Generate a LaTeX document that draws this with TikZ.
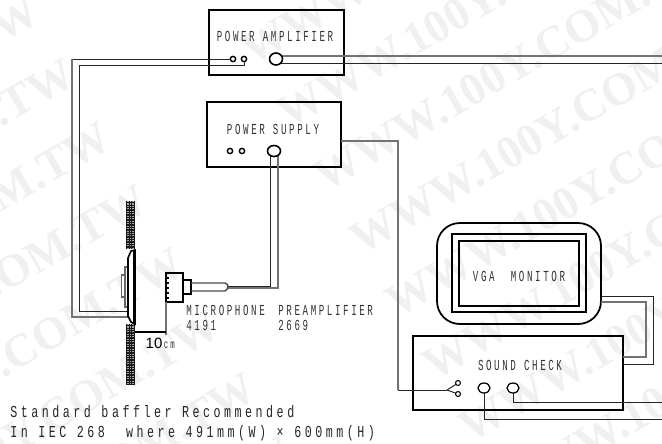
\documentclass[tikz,border=0pt]{standalone}
\usepackage{fontspec}
\usepackage{xcolor}
\setmainfont{Liberation Serif}
\setsansfont{Liberation Sans}
\definecolor{WMGray}{HTML}{F0F0F0}
\definecolor{TxtGray}{HTML}{333333}
\newfontfamily\lblfont[FakeStretch=.6,LetterSpace=17]{Liberation Mono}
\newfontfamily\notefont[FakeStretch=.7,LetterSpace=21]{Liberation Mono}
\tikzset{
  devbox/.style={draw,line width=.9pt},
  wiredark/.style={line width=.55pt,draw=black!85},
  wiregray/.style={line width=.9pt,draw=black!55},
  port/.style={draw,line width=.8pt,fill=white,circle,inner sep=0pt,minimum size=#1},
  lbl/.style={text=TxtGray,inner sep=0pt,font=\fontsize{8.7pt}{10pt}\lblfont},
  note/.style={anchor=west,inner sep=0pt,text=black!85,font=\fontsize{9.5pt}{12pt}\notefont},
  wmark/.style={text=WMGray,rotate=30,anchor=base west,inner sep=0pt,font=\fontsize{26.2pt}{28pt}\bfseries},
}
\begin{document}
\begin{tikzpicture}[x=.02cm,y=-.02cm]
\path[use as bounding box] (0,0) rectangle (662,443);
% watermark
\foreach \k in {-3,...,8}
  \foreach \st in {185,-430}{
    \pgfmathsetmacro{\wc}{184+72.6*\k}
    \pgfmathsetmacro{\wx}{\st*.866+\wc*.5}
    \pgfmathsetmacro{\wy}{-\st*.5+\wc*.866}
    \node[wmark] (wm\k\st) at (\wx,\wy) {WWW.100Y.COM.TW};
  }
% boxes
\draw[devbox] (209,10) rectangle (344,75);
\draw[devbox] (207,102) rectangle (341,167);
\draw[devbox] (413,336) rectangle (623,410);
\draw[line width=1pt,rounded corners=13] (437,223) rectangle (601,324);
\draw[line width=.9pt] (452,234) rectangle (586,312);
\draw[line width=1.2pt] (459,241) rectangle (579,306);
\node[lbl] (ampl) at (275,36) {POWER AMPLIFIER};
\node[lbl] (supl) at (273,129) {POWER SUPPLY};
\node[lbl] (monl) at (519,276) {VGA~~MONITOR};
\node[lbl] (chkl) at (520,365) {SOUND CHECK};
% ports
\coordinate (ampout) at (276,59);
\coordinate (supout) at (274,151);
\coordinate (chka) at (484,388);
\coordinate (chkb) at (513,388);
% wires
\draw[wiregray] (281,56) -- (662,56);
\draw[wiredark] (281,63) -- (662,63);
\draw[wiredark] (233,59) -- (72,59);
\draw[wiregray] (72,59) -- (72,317) -- (128,317);
\draw[wiredark] (244,59) -- (244,65) -- (79,65) -- (79,311) -- (128,311);
\draw[wiredark] (270.5,151) -- (270.5,286) -- (228,286);
\draw[wiregray] (278,151) -- (278,288) -- (228,288);
\draw[wiregray] (341,141) -- (398,141) -- (398,390);
\draw[wiredark] (398,390) -- (447,390);
\draw[wiredark] (447,390) -- (458,383);
\draw[wiredark] (447,390) -- (458,394);
\draw[wiredark] (484,388) -- (484,419) -- (662,419);
\draw[wiredark] (513,388) -- (513,402) -- (662,402);
\draw[wiredark] (601,296) -- (653,296) -- (653,364) -- (623,364);
\draw[wiregray] (601,302) -- (646,302) -- (646,357) -- (623,357);
\node[port=3pt] (ampa) at (233,59) {};
\node[port=3pt] (ampb) at (244,59) {};
\node[port=3pt] (supa) at (230,151) {};
\node[port=3pt] (supb) at (242,151) {};
\node[port=2.8pt,line width=.6pt] (forka) at (458,383) {};
\node[port=2.8pt,line width=.6pt] (forkb) at (458,394) {};
\draw[line width=.9pt,fill=white] (ampout) ellipse (6.5 and 6);
\draw[line width=.9pt,fill=white] (supout) ellipse (6.5 and 5.5);
\draw[line width=.7pt,fill=white] (chka) ellipse (6 and 5);
\draw[line width=.7pt,fill=white] (chkb) ellipse (6 and 5);
% baffle
\foreach \by/\bh in {201/249,324/385}{
  \fill[black!90] (126,\by) rectangle (135,\bh);
  \foreach \bx in {128,130.5,133}
    \draw[black!35,line width=.6pt,dash pattern=on .6pt off .8pt] (\bx,\by) -- (\bx,\bh);
}
% loudspeaker
\draw[black!60,line width=.8pt,fill=white] (121.5,275) -- (125,275) -- (125,297) -- (121.5,297) -- cycle;
\draw[black!60,line width=.8pt,fill=white] (125,267) rectangle (128,307);
\draw[line width=.9pt,fill=white] (135,250) -- (131,251) -- (128,258) -- (128,316) -- (131,322) -- (135,324) -- cycle;
\draw[line width=1.5pt] (134.5,250) -- (134.5,324);
% microphone
\draw[line width=.9pt] (166,273) rectangle (183,302);
\draw[line width=.9pt] (183,280) rectangle (191,294);
\draw[black!70,line width=.8pt] (191,283) -- (225,283) .. controls (229,284) and (229,289) .. (225,291) -- (191,291);
\foreach \ty in {278,283,288,293,298}
  \draw[line width=.7pt] (166,\ty) -- (169,\ty);
% dimension
\draw[wiregray] (166,302) -- (166,335);
\draw[line width=.8pt] (135,332) -- (166,332);
\node[inner sep=0pt,font=\fontsize{8.5pt}{10pt}\sffamily] (tenl) at (154,343) {10};
\node[lbl,anchor=west,font=\fontsize{7pt}{8pt}\lblfont] (cml) at (163.5,345) {c\,m};
\node[lbl,anchor=west] (micl) at (186,310) {MICROPHONE};
\node[lbl,anchor=west] (micn) at (186,325) {4191};
\node[lbl,anchor=west] (prel) at (278,310) {PREAMPLIFIER};
\node[lbl,anchor=west] (pren) at (278,325) {2669};
\node[note] (notea) at (10,412) {Standard baffler Recommended};
\node[note] (noteb) at (10,433) {In IEC 268~~where 491mm(W) × 600mm(H)};
\end{tikzpicture}
\end{document}
